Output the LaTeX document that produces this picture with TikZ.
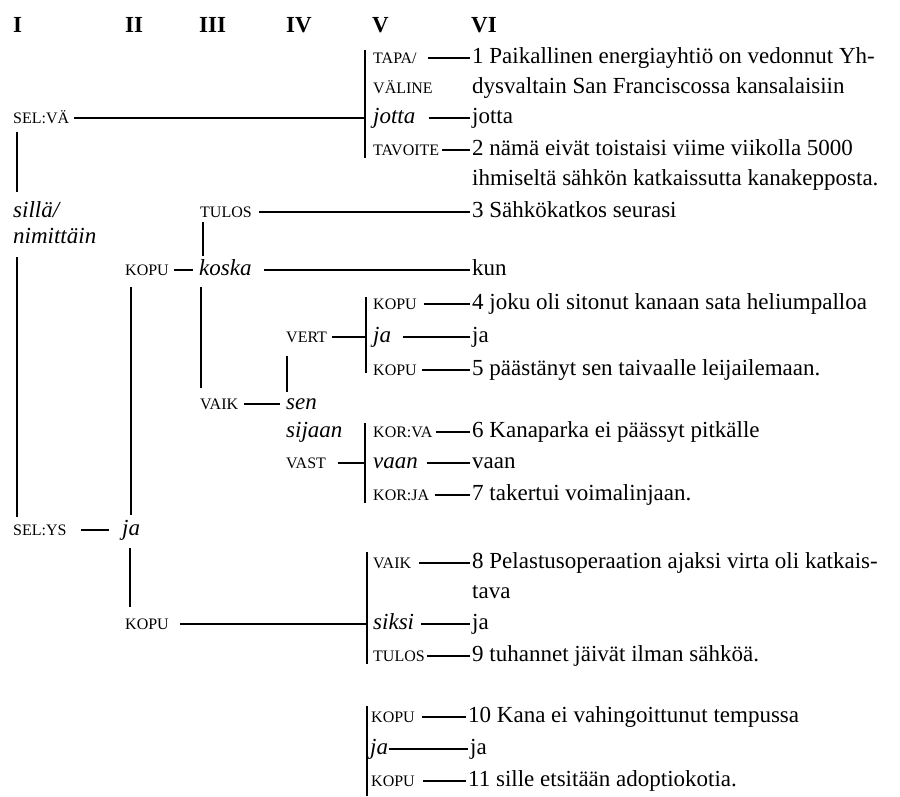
\documentclass[tikz,border=0pt]{standalone}
\usepackage{fontspec}
\setmainfont{Liberation Serif}
\newcommand\hc[3][0pt]{\draw[hl,shorten <=#1,shorten >=2pt] (#2) -- (#3);}
\begin{document}
\begin{tikzpicture}[x=1pt,y=-1pt,
  every node/.style={inner ysep=0pt, inner xsep=0pt, text height=15.5pt, text depth=5pt, anchor=west, font=\fontsize{23}{28}\selectfont},
  txt/.style={},
  lbl/.style={font=\fontsize{16}{18}\selectfont},
  it/.style={font=\fontsize{23}{28}\selectfont\itshape},
  hdr/.style={font=\fontsize{23}{28}\selectfont\bfseries},
  hl/.style={line width=2.2pt},
  vl/.style={line width=2.8pt}]
\useasboundingbox (0,0) rectangle (900,796);
% headers
\node[hdr] (hI) at (13,27) {I};
\node[hdr] (hII) at (125,27) {II};
\node[hdr] (hIII) at (199,27) {III};
\node[hdr] (hIV) at (286,27) {IV};
\node[hdr] (hV) at (372,27) {V};
\node[hdr] (hVI) at (471,27) {VI};
% group 1
\node[lbl] (tapa) at (373,58) {TAPA/};
\node[lbl] (valine) at (373,88) {VÄLINE};
\node[txt] (s1a) at (472,58) {1 Paikallinen energiayhtiö on vedonnut Yh-};
\node[txt] (s1b) at (472,88) {dysvaltain San Franciscossa kansalaisiin};
\node[lbl] (selva) at (13,118) {SEL:VÄ};
\node[it] (jottaL) at (373,118) {jotta};
\node[txt] (jottaR) at (472,118) {jotta};
\node[lbl] (tavoite) at (373,150) {TAVOITE};
\node[txt] (s2a) at (472,150) {2 nämä eivät toistaisi viime viikolla 5000};
\node[txt] (s2b) at (472,180) {ihmiseltä sähkön katkaissutta kanakepposta.};
\coordinate (b1t) at (365,50);
\coordinate (b1b) at (365,158);
% column I
\node[it] (silla) at (13,212) {sillä/};
\node[it] (nimittain) at (13,238) {nimittäin};
\coordinate (bI1t) at (17,132);
\coordinate (bI1b) at (17,192);
\coordinate (bI2t) at (17,257);
\coordinate (bI2b) at (17,517);
\node[lbl] (selys) at (13,530) {SEL:YS};
\node[it] (jaII) at (122,530) {ja};
% column III
\node[lbl] (tulosIII) at (200,212) {TULOS};
\node[txt] (s3) at (472,212) {3 Sähkökatkos seurasi};
\node[lbl] (kopuII) at (125,270) {KOPU};
\node[it] (koska) at (199,270) {koska};
\node[txt] (kun) at (472,270) {kun};
\coordinate (bIIIat) at (203,222);
\coordinate (bIIIab) at (203,256);
\coordinate (bIIat) at (131,287);
\coordinate (bIIab) at (131,515);
\coordinate (bIIIbt) at (201,287);
\coordinate (bIIIbb) at (201,388);
% group KOPU ja KOPU
\node[lbl] (kopu4) at (373,304) {KOPU};
\node[txt] (s4) at (472,304) {4 joku oli sitonut kanaan sata heliumpalloa};
\node[lbl] (vert) at (286,337) {VERT};
\node[it] (jaV) at (373,337) {ja};
\node[txt] (jaVR) at (472,337) {ja};
\node[lbl] (kopu5) at (373,370) {KOPU};
\node[txt] (s5) at (472,370) {5 päästänyt sen taivaalle leijailemaan.};
\coordinate (b2t) at (366,297);
\coordinate (b2b) at (366,373);
\coordinate (bIVt) at (287,356);
\coordinate (bIVb) at (287,392);
% VAIK sen sijaan
\node[lbl] (vaikIII) at (200,404) {VAIK};
\node[it] (sen) at (286,404) {sen};
\node[it] (sijaan) at (286,432) {sijaan};
\node[lbl] (korva) at (373,432) {KOR:VA};
\node[txt] (s6) at (472,432) {6 Kanaparka ei päässyt pitkälle};
\node[lbl] (vast) at (286,463) {VAST};
\node[it] (vaanL) at (373,463) {vaan};
\node[txt] (vaanR) at (472,463) {vaan};
\node[lbl] (korja) at (373,495) {KOR:JA};
\node[txt] (s7) at (472,495) {7 takertui voimalinjaan.};
\coordinate (b3t) at (365,423);
\coordinate (b3b) at (365,503);
% lower ja
\coordinate (bIIbt) at (130,548);
\coordinate (bIIbb) at (130,607);
\node[lbl] (kopuII2) at (125,624) {KOPU};
\node[lbl] (vaikV) at (373,563) {VAIK};
\node[txt] (s8a) at (472,563) {8 Pelastusoperaation ajaksi virta oli katkais-};
\node[txt] (s8b) at (472,593) {tava};
\node[it] (siksi) at (373,624) {siksi};
\node[txt] (jaS) at (472,624) {ja};
\node[lbl] (tulosV) at (373,656) {TULOS};
\node[txt] (s9) at (472,656) {9 tuhannet jäivät ilman sähköä.};
\coordinate (b4t) at (367,552);
\coordinate (b4b) at (367,664);
% last group
\node[lbl] (kopu10) at (371,717) {KOPU};
\node[txt] (s10) at (468,717) {10 Kana ei vahingoittunut tempussa};
\node[it] (jaL) at (370,749) {ja};
\node[txt] (jaLR) at (470,749) {ja};
\node[lbl] (kopu11) at (371,781) {KOPU};
\node[txt] (s11) at (468,781) {11 sille etsitään adoptiokotia.};
\coordinate (b5t) at (367,706);
\coordinate (b5b) at (367,796);
% vertical bars
\foreach \a/\b in {b1t/b1b,bI1t/bI1b,bI2t/bI2b,bIIIat/bIIIab,bIIat/bIIab,bIIIbt/bIIIbb,b2t/b2b,bIVt/bIVb,b3t/b3b,bIIbt/bIIbb,b4t/b4b,b5t/b5b}
  \draw[vl] (\a) -- (\b);
% horizontal connectors
\hc[11pt]{tapa}{s1a}
\draw[hl, shorten <=5pt] (selva) -- (selva -| b1t);
\hc[13pt]{jottaL}{jottaR}
\hc[3pt]{tavoite}{s2a}
\hc[7pt]{tulosIII}{s3}
\draw[hl, shorten <=5pt, shorten >=6pt] (kopuII) -- (koska);
\hc[12pt]{koska}{kun}
\hc[7pt]{kopu4}{s4}
\draw[hl, shorten <=5pt] (vert) -- (vert -| b2t);
\hc[12pt]{jaV}{jaVR}
\hc[5pt]{kopu5}{s5}
\draw[hl, shorten <=6pt, shorten >=6pt] (vaikIII) -- (sen);
\hc[3pt]{korva}{s6}
\draw[hl, shorten <=12pt] (vast) -- (vast -| b3t);
\hc[9pt]{vaanL}{vaanR}
\hc[6pt]{korja}{s7}
\draw[hl, shorten <=14pt, shorten >=13pt] (selys) -- (jaII);
\draw[hl, shorten <=11pt] (kopuII2) -- (kopuII2 -| b4t);
\hc[8pt]{vaikV}{s8a}
\hc[7pt]{siksi}{jaS}
\hc[2pt]{tulosV}{s9}
\hc[7pt]{kopu10}{s10}
\hc[1pt]{jaL}{jaLR}
\hc[8pt]{kopu11}{s11}
\end{tikzpicture}
\end{document}
